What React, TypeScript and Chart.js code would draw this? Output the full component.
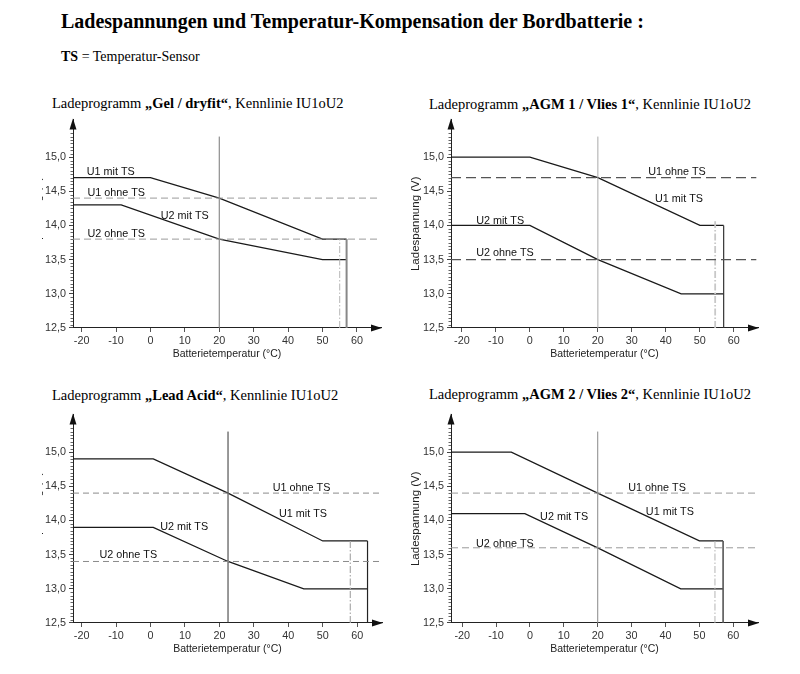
import React, { useEffect, useRef } from 'react';
import { Chart, registerables } from 'chart.js';

Chart.register(...registerables);

// ---------- shared axis data ----------
const xTicks = [-20, -10, 0, 10, 20, 30, 40, 50, 60];
const yTicks = [12.5, 13.0, 13.5, 14.0, 14.5, 15.0];
const yMin = 12.5;
const yMax = 15.55;
const refTop = 15.3;

// ---------- Gel / dryfit ----------
const gelU1 = [[-22.5, 14.7], [0, 14.7], [20, 14.4], [50, 13.8], [57, 13.8]];
const gelU2 = [[-22.5, 14.3], [-8.5, 14.3], [20, 13.8], [50, 13.5], [57, 13.5]];
const gelOhne = [14.4, 13.8];
const gelMarks = [20, 55, 13.8, 57]; // reference temp, sensor limit x, sensor limit top, cut-off temp
const gelLabels = [
  { text: 'U1 mit TS', x: -18.5, y: 14.785 },
  { text: 'U1 ohne TS', x: -18.3, y: 14.48 },
  { text: 'U2 mit TS', x: 3.0, y: 14.14 },
  { text: 'U2 ohne TS', x: -18.3, y: 13.87 },
];

// ---------- AGM 1 / Vlies 1 ----------
const agm1U1 = [[-23.2, 15.0], [0, 15.0], [20, 14.7], [50, 14.0], [57, 14.0]];
const agm1U2 = [[-23.2, 14.0], [0, 14.0], [20, 13.5], [44.5, 13.0], [57, 13.0]];
const agm1Ohne = [14.7, 13.5];
const agm1Marks = [20, 54.5, 14.06, 57];
const agm1Labels = [
  { text: 'U1 ohne TS', x: 34.8, y: 14.785 },
  { text: 'U1 mit TS', x: 36.8, y: 14.38 },
  { text: 'U2 mit TS', x: -15.8, y: 14.06 },
  { text: 'U2 ohne TS', x: -15.8, y: 13.59 },
];

// ---------- Lead Acid ----------
const leadU1 = [[-22.5, 14.9], [0.8, 14.9], [22.5, 14.4], [50, 13.7], [63, 13.7]];
const leadU2 = [[-22.5, 13.9], [0.8, 13.9], [22.5, 13.4], [44.5, 13.0], [63, 13.0]];
const leadOhne = [14.4, 13.4];
const leadMarks = [22.5, 58, 13.7, 63];
const leadLabels = [
  { text: 'U1 ohne TS', x: 35.5, y: 14.47 },
  { text: 'U1 mit TS', x: 37.3, y: 14.1 },
  { text: 'U2 mit TS', x: 2.8, y: 13.91 },
  { text: 'U2 ohne TS', x: -14.8, y: 13.49 },
];

// ---------- AGM 2 / Vlies 2 ----------
const agm2U1 = [[-23.3, 15.0], [-5.5, 15.0], [20, 14.4], [50, 13.7], [57, 13.7]];
const agm2U2 = [[-23.3, 14.1], [-1.5, 14.1], [20, 13.6], [44.5, 13.0], [57, 13.0]];
const agm2Ohne = [14.4, 13.6];
const agm2Marks = [20, 54.6, 13.7, 57];
const agm2Labels = [
  { text: 'U1 ohne TS', x: 29.0, y: 14.48 },
  { text: 'U1 mit TS', x: 34.2, y: 14.13 },
  { text: 'U2 mit TS', x: 3.0, y: 14.05 },
  { text: 'U2 ohne TS', x: -15.9, y: 13.66 },
];

const SANS = '"Liberation Sans", Arial, Helvetica, sans-serif';
const SERIF = '"Liberation Serif", "Times New Roman", Times, serif';

type Style = {
  dash: string; dashW: number; dashPattern: number[];
  ref: string; refW: number;
  limit: string; limitW: number;
  sensor: string; sensorW: number;
};

const decorPlugin = {
  id: 'decor',
  afterDraw(chart: any, _args: any, opts: any) {
    const { ctx, chartArea: a, scales } = chart;
    const ys = scales.y;
    const xs = scales.x;
    ctx.save();
    // minor ticks on y axis
    ctx.strokeStyle = '#666';
    ctx.lineWidth = 1;
    ctx.beginPath();
    for (let i = 1; i <= 57; i++) {
      const v = 12.5 + i * 0.05;
      if (i % 10 === 0 && v <= 15.001) continue;
      const py = Math.round(ys.getPixelForValue(v)) + 0.5;
      ctx.moveTo(a.left - 2.5, py);
      ctx.lineTo(a.left, py);
    }
    ctx.stroke();
    // arrow heads
    ctx.fillStyle = '#111';
    ctx.beginPath();
    ctx.moveTo(a.left, a.top - 1);
    ctx.lineTo(a.left - 3.5, a.top + 10);
    ctx.lineTo(a.left + 3.5, a.top + 10);
    ctx.closePath();
    ctx.fill();
    ctx.beginPath();
    ctx.moveTo(a.right + 1, a.bottom);
    ctx.lineTo(a.right - 10, a.bottom - 3.5);
    ctx.lineTo(a.right - 10, a.bottom + 3.5);
    ctx.closePath();
    ctx.fill();
    // curve labels
    ctx.fillStyle = '#111';
    ctx.font = `10.8px ${SANS}`;
    ctx.textAlign = 'left';
    ctx.textBaseline = 'middle';
    (opts.labels || []).forEach((l: any) => {
      ctx.fillText(l.text, xs.getPixelForValue(l.x), ys.getPixelForValue(l.y));
    });
    ctx.restore();
  },
};

const pts = (arr: number[][]) => arr.map(([x, y]) => ({ x, y }));

function buildConfig(u1: number[][], u2: number[][], ohne: number[], marks: number[], labels: any[], xMin: number, xMax: number, st: Style): any {
  const dashEnd = xMax - 0.5;
  const [refX, sensorX, sensorTop, limitX] = marks;
  const u1End = u1[u1.length - 1][1];
  const line = (data: any[], color: string, width: number, dash: number[] = []) => ({
    data, borderColor: color, borderWidth: width, borderDash: dash,
    pointRadius: 0, tension: 0, fill: false, showLine: true,
  });
  return {
    type: 'line',
    data: {
      datasets: [
        line([{ x: xMin, y: ohne[0] }, { x: dashEnd, y: ohne[0] }], st.dash, st.dashW, st.dashPattern),
        line([{ x: xMin, y: ohne[1] }, { x: dashEnd, y: ohne[1] }], st.dash, st.dashW, st.dashPattern),
        line([{ x: refX, y: yMin }, { x: refX, y: refTop }], st.ref, st.refW),
        line([{ x: sensorX, y: yMin }, { x: sensorX, y: sensorTop }], st.sensor, st.sensorW, [7, 2, 1.5, 2]),
        line([{ x: limitX, y: u1End }, { x: limitX, y: yMin }], st.limit, st.limitW),
        line(pts(u2), '#1a1a1a', 1.3),
        line(pts(u1), '#1a1a1a', 1.3),
      ],
    },
    options: {
      animation: false,
      responsive: true,
      maintainAspectRatio: false,
      layout: { padding: { top: 9, right: 10, left: 0, bottom: 0 } },
      plugins: {
        legend: { display: false },
        tooltip: { enabled: false },
        decor: { labels },
      },
      scales: {
        x: {
          type: 'linear',
          min: xMin,
          max: xMax,
          afterBuildTicks: (s: any) => { s.ticks = xTicks.map((v) => ({ value: v })); },
          afterFit: (s: any) => { s.height = 37; },
          grid: { drawOnChartArea: false, drawTicks: true, tickLength: 4, color: '#555' },
          border: { display: true, color: '#222', width: 1 },
          ticks: { color: '#333', font: { family: SANS, size: 10.8 }, padding: 3, maxRotation: 0, callback: (v: any) => String(v) },
          title: { display: true, text: 'Batterietemperatur (°C)', color: '#222', font: { family: SANS, size: 10.5 }, padding: { top: 0, bottom: 5 } },
        },
        y: {
          type: 'linear',
          min: yMin,
          max: yMax,
          afterBuildTicks: (s: any) => { s.ticks = yTicks.map((v) => ({ value: v })); },
          afterFit: (s: any) => { s.width = 47; },
          grid: { drawOnChartArea: false, drawTicks: true, tickLength: 4, color: '#444' },
          border: { display: true, color: '#222', width: 1 },
          ticks: { color: '#333', font: { family: SANS, size: 10.8 }, padding: 3, callback: (v: any) => Number(v).toFixed(1).replace('.', ',') },
          title: { display: true, text: 'Ladespannung (V)', color: '#222', font: { family: SANS, size: 11.5 }, padding: { top: 4.5, bottom: 4 } },
        },
      },
    },
    plugins: [decorPlugin],
  };
}

const lightStyle: Style = {
  dash: '#9a9a9a', dashW: 1, dashPattern: [7, 4],
  ref: '#777', refW: 1,
  limit: '#888', limitW: 2,
  sensor: '#b5b5b5', sensorW: 1,
};
const agm1Style: Style = {
  dash: '#555', dashW: 1.3, dashPattern: [10, 5],
  ref: '#aaa', refW: 1,
  limit: '#333', limitW: 1.2,
  sensor: '#c8c8c8', sensorW: 1.8,
};
const leadStyle: Style = {
  dash: '#8a8a8a', dashW: 1, dashPattern: [6, 4],
  ref: '#333', refW: 1,
  limit: '#222', limitW: 1.2,
  sensor: '#aaa', sensorW: 1.2,
};
const agm2Style: Style = {
  dash: '#9a9a9a', dashW: 1, dashPattern: [7, 4],
  ref: '#888', refW: 1,
  limit: '#555', limitW: 1.6,
  sensor: '#b5b5b5', sensorW: 1,
};

function Panel(props: { cfg: () => any; clipLeft: number; canvasLeft: number; top: number; width: number }) {
  const ref = useRef<HTMLCanvasElement>(null);
  useEffect(() => {
    const chart = new Chart(ref.current as HTMLCanvasElement, props.cfg());
    return () => chart.destroy();
  }, []);
  const h = 255;
  return (
    <div style={{ position: 'absolute', left: props.clipLeft, top: props.top, width: props.canvasLeft + props.width - props.clipLeft, height: h, overflow: 'hidden' }}>
      <div style={{ position: 'absolute', left: props.canvasLeft - props.clipLeft, top: 0, width: props.width, height: h }}>
        <canvas ref={ref} />
      </div>
    </div>
  );
}

function Title(props: { left: number; top: number; name: string }) {
  return (
    <div style={{ position: 'absolute', left: props.left, top: props.top, fontFamily: SERIF, fontSize: 14.5, lineHeight: '15px', color: '#000', whiteSpace: 'nowrap' }}>
      Ladeprogramm <b>„{props.name}“</b>, Kennlinie IU1oU2
    </div>
  );
}

export default function App() {
  return (
    <div style={{ position: 'absolute', left: 0, top: 0, width: 800, height: 674, background: '#fff', overflow: 'hidden' }}>
      <div style={{ position: 'absolute', left: 61, top: 11, fontFamily: SERIF, fontSize: 20, lineHeight: '20px', fontWeight: 'bold', color: '#000', whiteSpace: 'nowrap' }}>
        Ladespannungen und Temperatur-Kompensation der Bordbatterie :
      </div>
      <div style={{ position: 'absolute', left: 61, top: 50, fontFamily: SERIF, fontSize: 14, lineHeight: '14px', color: '#000', whiteSpace: 'nowrap' }}>
        <b>TS</b> = Temperatur-Sensor
      </div>

      <Title left={52} top={96} name="Gel / dryfit" />
      <Title left={429} top={96.5} name="AGM 1 / Vlies 1" />
      <Title left={52} top={387.5} name="Lead Acid" />
      <Title left={429} top={386.5} name="AGM 2 / Vlies 2" />

      <Panel clipLeft={42} canvasLeft={26} top={110} width={365}
        cfg={() => buildConfig(gelU1, gelU2, gelOhne, gelMarks, gelLabels, -22.5, 67, lightStyle)} />
      <Panel clipLeft={404} canvasLeft={404} top={110} width={364}
        cfg={() => buildConfig(agm1U1, agm1U2, agm1Ohne, agm1Marks, agm1Labels, -23.2, 67.1, agm1Style)} />
      <Panel clipLeft={42} canvasLeft={26} top={405} width={366}
        cfg={() => buildConfig(leadU1, leadU2, leadOhne, leadMarks, leadLabels, -22.5, 67.2, leadStyle)} />
      <Panel clipLeft={404} canvasLeft={404} top={405} width={364}
        cfg={() => buildConfig(agm2U1, agm2U2, agm2Ohne, agm2Marks, agm2Labels, -23.3, 67.3, agm2Style)} />
    </div>
  );
}
